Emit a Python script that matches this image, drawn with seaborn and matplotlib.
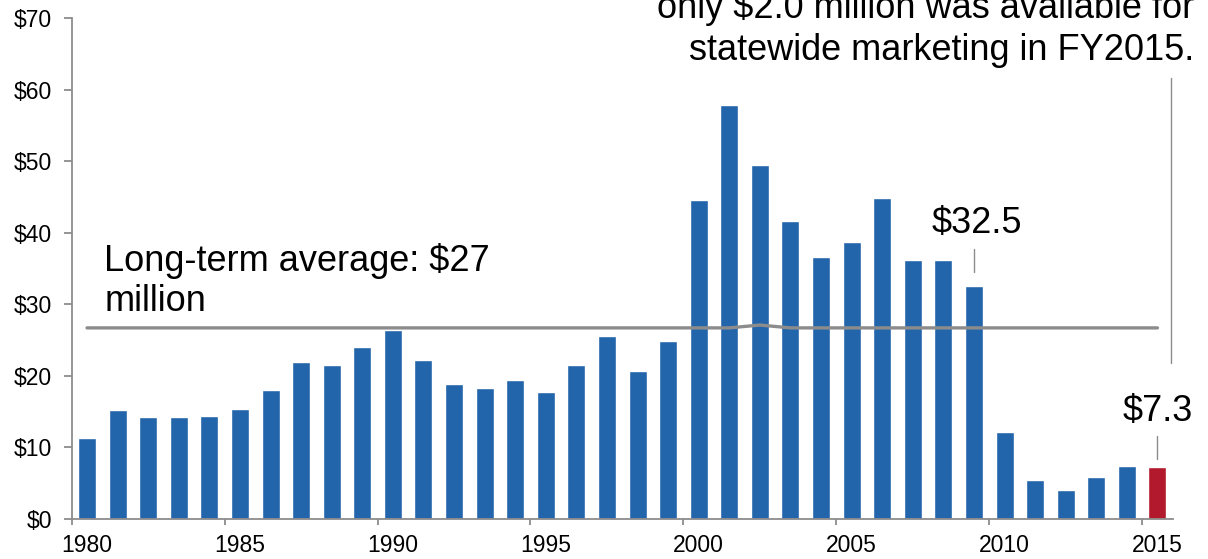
import pandas as pd
import matplotlib.pyplot as plt
import seaborn as sns

# Tourism marketing funding, $ millions, by fiscal year
years = list(range(1980, 2016))
funding = [11.3, 15.2, 14.2, 14.2, 14.4, 15.4, 18.0, 21.9, 21.5, 24.0,
           26.4, 22.2, 18.8, 18.3, 19.4, 17.8, 21.5, 25.5, 20.7, 24.9,
           44.6, 57.9, 49.4, 41.7, 36.6, 38.7, 44.8, 36.2, 36.2, 32.5,
           12.1, 5.4, 4.1, 5.8, 7.4, 7.3]
long_term_avg = [26.7, 26.7, 26.7, 26.7, 26.7, 26.7, 26.7, 26.7, 26.7, 26.7,
                 26.7, 26.7, 26.7, 26.7, 26.7, 26.7, 26.7, 26.7, 26.7, 26.7,
                 26.7, 26.7, 27.1, 26.7, 26.7, 26.7, 26.7, 26.7, 26.7, 26.7,
                 26.7, 26.7, 26.7, 26.7, 26.7, 26.7]
tick_labels = ['1980', '1985', '1990', '1995', '2000', '2005', '2010', '2015']
y_ticks = [0, 10, 20, 30, 40, 50, 60, 70]

BLUE = '#2265aa'
RED = '#b2192c'
GRAY = '#8c8c8c'

df = pd.DataFrame({'year': [str(y) for y in years], 'funding': funding})
bar_colors = [BLUE] * (len(years) - 1) + [RED]

sns.set_style('white')
plt.rcParams['font.family'] = ['Liberation Sans', 'DejaVu Sans']
plt.rcParams['text.color'] = 'black'

fig = plt.figure(figsize=(12.08, 5.59), dpi=100)
ax = fig.add_axes([0.0594, 0.0716, 0.9114, 0.8962])

sns.barplot(data=df, x='year', y='funding', hue='year', palette=bar_colors,
            legend=False, width=0.59, saturation=1, ax=ax)

# long-term average line
idx = list(range(len(years)))
sns.lineplot(x=idx, y=long_term_avg, color=GRAY, linewidth=2.4, ax=ax)

ax.set_xlim(-0.5, len(years) - 0.5)
ax.set_ylim(0, 70)
ax.set_xlabel('')
ax.set_ylabel('')

# category axis: labels under bars, tick marks between categories
major = [years.index(int(t)) for t in tick_labels]
ax.set_xticks(major)
ax.set_xticklabels(tick_labels, fontsize=16.5)
ax.set_xticks([p - 0.5 for p in major], minor=True)
ax.tick_params(axis='x', which='major', length=0, pad=11, labelcolor='black')
ax.tick_params(axis='x', which='minor', length=4, width=1.3, color=GRAY,
               direction='out', bottom=True)

ax.set_yticks(y_ticks)
ax.set_yticklabels([f'${v}' for v in y_ticks], fontsize=16.5)
ax.tick_params(axis='y', length=6, width=1.3, color=GRAY, direction='out',
               left=True, pad=8, labelcolor='black')

sns.despine(ax=ax)
for side in ['left', 'bottom']:
    ax.spines[side].set_color(GRAY)
    ax.spines[side].set_linewidth(1.3)

# annotations
ax.text(0.56, 29.1, 'Long-term average: $27\nmillion', fontsize=26,
        ha='left', va='baseline', linespacing=1.18)

i09 = years.index(2009)
ax.text(i09 + 0.1, 40.0, '$32.5', fontsize=26, ha='center', va='baseline')
ax.plot([i09, i09], [34.5, 37.7], color=GRAY, linewidth=1)

i15 = years.index(2015)
ax.text(i15, 13.7, '$7.3', fontsize=26, ha='center', va='baseline',
        clip_on=False)
ax.plot([i15, i15], [8.4, 11.6], color=GRAY, linewidth=1)

ax.plot([35.45, 35.45], [21.8, 61.6], color=GRAY, linewidth=1, clip_on=False)

fig.text(0.989, 0.8927,
         'only $2.0 million was available for\nstatewide marketing in FY2015.',
         fontsize=26, ha='right', va='baseline', linespacing=1.25)

fig.savefig('out.png', dpi=100)
